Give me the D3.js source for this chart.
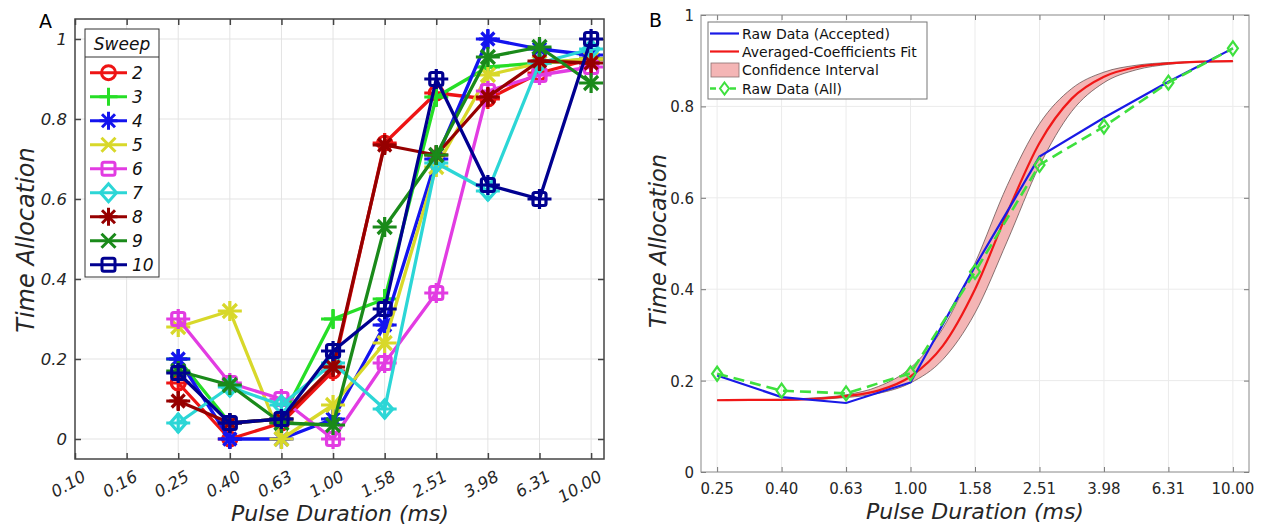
<!DOCTYPE html>
<html>
<head>
<meta charset="utf-8">
<script src="https://cdn.jsdelivr.net/npm/d3@7"></script>
<style>
  body { margin: 0; background: #fff; }
  svg text { font-family: "DejaVu Sans", sans-serif; fill: #262626; }
</style>
</head>
<body>
<svg id="chart" width="1262" height="529"></svg>
<script>
// ---- data ----
var pulse = [0.2512, 0.3981, 0.631, 1.0, 1.585, 2.512, 3.981, 6.31, 10.0];
var tickValsA = [0.1, 0.1585, 0.2512, 0.3981, 0.631, 1.0, 1.585, 2.512, 3.981, 6.31, 10.0];
var tickLabelsA = ['0.10', '0.16', '0.25', '0.40', '0.63', '1.00', '1.58', '2.51', '3.98', '6.31', '10.00'];
var tickValsB = pulse;
var tickLabelsB = ['0.25', '0.40', '0.63', '1.00', '1.58', '2.51', '3.98', '6.31', '10.00'];
var yTicks = [0, 0.2, 0.4, 0.6, 0.8, 1];
var yTickLabels = ['0', '0.2', '0.4', '0.6', '0.8', '1'];

var sweepNames = ['2', '3', '4', '5', '6', '7', '8', '9', '10'];
var sweep2  = [0.14, 0.00, 0.04, 0.17, 0.74, 0.865, 0.85, 0.915, 0.95];
var sweep3  = [0.20, 0.04, 0.05, 0.30, 0.35, 0.855, 0.93, 0.94, 0.95];
var sweep4  = [0.20, 0.00, 0.00, 0.05, 0.285, 0.70, 1.00, 0.975, 0.96];
var sweep5  = [0.28, 0.32, 0.00, 0.085, 0.24, 0.68, 0.91, 0.94, 0.95];
var sweep6  = [0.30, 0.14, 0.10, 0.00, 0.19, 0.365, 0.87, 0.91, 0.93];
var sweep7  = [0.04, 0.13, 0.085, 0.19, 0.075, 0.69, 0.62, 0.94, 0.975];
var sweep8  = [0.095, 0.04, 0.05, 0.18, 0.735, 0.71, 0.855, 0.945, 0.94];
var sweep9  = [0.17, 0.135, 0.04, 0.035, 0.53, 0.71, 0.955, 0.98, 0.89];
var sweep10 = [0.165, 0.04, 0.05, 0.22, 0.325, 0.90, 0.635, 0.60, 1.00];
var sweepValues = [sweep2, sweep3, sweep4, sweep5, sweep6, sweep7, sweep8, sweep9, sweep10];

var rawAccepted = [0.211, 0.164, 0.151, 0.196, 0.45, 0.69, 0.775, 0.854, 0.927];
var rawAll      = [0.215, 0.178, 0.172, 0.216, 0.438, 0.672, 0.756, 0.852, 0.927];

var fitX = [0.2512, 0.3162, 0.3981, 0.5012, 0.631, 0.7943, 1.0, 1.259, 1.585,
            1.995, 2.512, 3.162, 3.981, 5.012, 6.31, 7.943, 10.0];
var fitY   = [0.157, 0.158, 0.158, 0.160, 0.166, 0.178, 0.209, 0.276, 0.400,
              0.567, 0.720, 0.817, 0.865, 0.886, 0.894, 0.898, 0.899];
var ciHigh = [0.157, 0.158, 0.159, 0.162, 0.169, 0.187, 0.228, 0.314, 0.457,
              0.627, 0.762, 0.839, 0.875, 0.890, 0.896, 0.898, 0.899];
var ciLow  = [0.157, 0.157, 0.158, 0.159, 0.163, 0.172, 0.195, 0.246, 0.348,
              0.505, 0.670, 0.789, 0.852, 0.880, 0.892, 0.897, 0.898];

// ---- styles ----
var sweepColors = ['#ee1414', '#26de26', '#1414ee', '#d8d82a', '#e23ce2',
                   '#2cd6d6', '#960000', '#1a8a1a', '#000090'];
var sweepSymbols = ['o', '+', '*', 'x', 's', 'd', '*', 'x', 's'];

function symbolPath(s) {
    switch (s) {
    case 'o': return 'M7,0A7,7 0 1,1 -7,0A7,7 0 1,1 7,0Z';
    case '+': return 'M-9,0H9M0,-9V9';
    case '*': return 'M-9,0H9M0,-9V9M-6.5,-6.5L6.5,6.5M-6.5,6.5L6.5,-6.5';
    case 'x': return 'M-7,-7L7,7M-7,7L7,-7';
    case 's': return 'M-4.5,-6.5H4.5Q6.5,-6.5 6.5,-4.5V4.5Q6.5,6.5 4.5,6.5H-4.5Q-6.5,6.5 -6.5,4.5V-4.5Q-6.5,-6.5 -4.5,-6.5Z';
    case 'd': return 'M0,-9L8,0L0,9L-8,0Z';
    }
    return '';
}
var crossPath = 'M-12,0H12M0,-10V10';

var svg = d3.select('#chart');

// =================== Panel A ===================
var xA = d3.scaleLog().domain([0.1, Math.pow(10, 1.05)]).range([75, 604]);
var yA = d3.scaleLinear().domain([-0.05, 1.05]).range([459, 19]);
var gA = svg.append('g');

// grid
gA.append('g').selectAll('line').data(tickValsA.slice(1)).enter().append('line')
    .attr('x1', function(d){return xA(d);}).attr('x2', function(d){return xA(d);})
    .attr('y1', 19).attr('y2', 459)
    .attr('stroke', '#e3e3e3').attr('stroke-width', 1);
gA.append('g').selectAll('line').data(yTicks).enter().append('line')
    .attr('x1', 75).attr('x2', 604)
    .attr('y1', function(d){return yA(d);}).attr('y2', function(d){return yA(d);})
    .attr('stroke', '#e3e3e3').attr('stroke-width', 1);

// ticks (inward, all four sides)
gA.append('g').attr('transform', 'translate(0,459)')
    .call(d3.axisBottom(xA).tickValues(tickValsA).tickSize(-6).tickFormat(''))
    .call(function(g){g.select('.domain').remove();});
gA.append('g').attr('transform', 'translate(0,19)')
    .call(d3.axisTop(xA).tickValues(tickValsA).tickSize(-6).tickFormat(''))
    .call(function(g){g.select('.domain').remove();});
gA.append('g').attr('transform', 'translate(75,0)')
    .call(d3.axisLeft(yA).tickValues(yTicks).tickSize(-6).tickFormat(''))
    .call(function(g){g.select('.domain').remove();});
gA.append('g').attr('transform', 'translate(604,0)')
    .call(d3.axisRight(yA).tickValues(yTicks).tickSize(-6).tickFormat(''))
    .call(function(g){g.select('.domain').remove();});
gA.selectAll('.tick line').attr('stroke', '#444').attr('stroke-width', 1.5);

// lines + markers
var lineA = d3.line()
    .x(function(d, i){return xA(pulse[i]);})
    .y(function(d){return yA(d);});
sweepValues.forEach(function(vals, k) {
    var col = sweepColors[k];
    var g = gA.append('g');
    g.append('path').attr('d', lineA(vals))
        .attr('fill', 'none').attr('stroke', col).attr('stroke-width', 3.3)
        .attr('stroke-linejoin', 'round');
    var m = g.selectAll('g.pt').data(vals).enter().append('g')
        .attr('transform', function(d, i){return 'translate(' + xA(pulse[i]) + ',' + yA(d) + ')';});
    m.append('path').attr('d', symbolPath(sweepSymbols[k]))
        .attr('fill', 'none').attr('stroke', col).attr('stroke-width', 3.2);
    m.append('path').attr('d', crossPath)
        .attr('fill', 'none').attr('stroke', col).attr('stroke-width', 3.2);
});

// box
gA.append('rect').attr('x', 75).attr('y', 19).attr('width', 529).attr('height', 440)
    .attr('fill', 'none').attr('stroke', '#444').attr('stroke-width', 1.5);

// tick labels
gA.append('g').selectAll('text').data(yTicks).enter().append('text')
    .attr('x', 67).attr('y', function(d){return yA(d) + 6;})
    .attr('text-anchor', 'end').attr('font-size', 16.5).attr('font-style', 'italic')
    .text(function(d, i){return yTickLabels[i];});
gA.append('g').selectAll('text').data(tickValsA).enter().append('text')
    .attr('transform', function(d){return 'translate(' + (xA(d) + 6) + ',469) rotate(-30)';})
    .attr('dy', '0.75em')
    .attr('text-anchor', 'end').attr('font-size', 16.5).attr('font-style', 'italic')
    .text(function(d, i){return tickLabelsA[i];});

// axis titles
gA.append('text').attr('x', 340).attr('y', 521)
    .attr('text-anchor', 'middle').attr('font-size', 22).attr('font-style', 'italic')
    .text('Pulse Duration (ms)');
gA.append('text').attr('transform', 'translate(34,240) rotate(-90)')
    .attr('text-anchor', 'middle').attr('font-size', 24).attr('font-style', 'italic')
    .text('Time Allocation');
gA.append('text').attr('x', 39).attr('y', 28).attr('font-size', 19).style('fill', '#000').text('A');

// legend
var legA = gA.append('g');
legA.append('rect').attr('x', 85).attr('y', 29).attr('width', 74).attr('height', 248)
    .attr('fill', '#fff').attr('stroke', '#333').attr('stroke-width', 1);
legA.append('line').attr('x1', 85).attr('x2', 159).attr('y1', 57).attr('y2', 57)
    .attr('stroke', '#333').attr('stroke-width', 1);
legA.append('text').attr('x', 122).attr('y', 50).attr('text-anchor', 'middle')
    .attr('font-size', 17).attr('font-style', 'italic').style('fill', '#111').text('Sweep');
var items = legA.selectAll('g.item').data(sweepNames).enter().append('g')
    .attr('transform', function(d, i){return 'translate(0,' + (72.7 + i * 24) + ')';});
items.append('line').attr('x1', 90).attr('x2', 127)
    .attr('stroke', function(d, i){return sweepColors[i];}).attr('stroke-width', 3);
items.append('path').attr('transform', 'translate(108.5,0)')
    .attr('d', function(d, i){return symbolPath(sweepSymbols[i]);})
    .attr('fill', 'none').attr('stroke', function(d, i){return sweepColors[i];}).attr('stroke-width', 3);
items.append('text').attr('x', 132).attr('y', 6.5)
    .attr('font-size', 17).attr('font-style', 'italic').style('fill', '#111')
    .text(function(d){return d;});

// =================== Panel B ===================
var xB = d3.scaleLog().domain([Math.pow(10, -0.65), Math.pow(10, 1.05)]).range([701, 1249]);
var yB = d3.scaleLinear().domain([0, 1]).range([472, 15]);
var gB = svg.append('g');

gB.append('g').selectAll('line').data(tickValsB).enter().append('line')
    .attr('x1', function(d){return xB(d);}).attr('x2', function(d){return xB(d);})
    .attr('y1', 15).attr('y2', 472)
    .attr('stroke', '#ebebeb').attr('stroke-width', 1);
gB.append('g').selectAll('line').data(yTicks.slice(1, 5)).enter().append('line')
    .attr('x1', 701).attr('x2', 1249)
    .attr('y1', function(d){return yB(d);}).attr('y2', function(d){return yB(d);})
    .attr('stroke', '#ebebeb').attr('stroke-width', 1);

gB.append('g').attr('transform', 'translate(0,472)')
    .call(d3.axisBottom(xB).tickValues(tickValsB).tickSize(-5).tickFormat(''))
    .call(function(g){g.select('.domain').remove();});
gB.append('g').attr('transform', 'translate(0,15)')
    .call(d3.axisTop(xB).tickValues(tickValsB).tickSize(-5).tickFormat(''))
    .call(function(g){g.select('.domain').remove();});
gB.append('g').attr('transform', 'translate(701,0)')
    .call(d3.axisLeft(yB).tickValues(yTicks).tickSize(-5).tickFormat(''))
    .call(function(g){g.select('.domain').remove();});
gB.append('g').attr('transform', 'translate(1249,0)')
    .call(d3.axisRight(yB).tickValues(yTicks).tickSize(-5).tickFormat(''))
    .call(function(g){g.select('.domain').remove();});
gB.selectAll('.tick line').attr('stroke', '#777').attr('stroke-width', 1);

// confidence band
var band = d3.area()
    .x(function(d, i){return xB(fitX[i]);})
    .y0(function(d, i){return yB(ciLow[i]);})
    .y1(function(d){return yB(d);})
    .curve(d3.curveMonotoneX);
gB.append('path').attr('d', band(ciHigh))
    .attr('fill', '#f4b5b5').attr('stroke', '#6a5555').attr('stroke-width', 0.8);

var lineFit = d3.line()
    .x(function(d, i){return xB(fitX[i]);})
    .y(function(d){return yB(d);})
    .curve(d3.curveMonotoneX);
gB.append('path').attr('d', lineFit(fitY))
    .attr('fill', 'none').attr('stroke', '#f01818').attr('stroke-width', 2.2);

var lineB = d3.line()
    .x(function(d, i){return xB(pulse[i]);})
    .y(function(d){return yB(d);});
gB.append('path').attr('d', lineB(rawAccepted))
    .attr('fill', 'none').attr('stroke', '#1a1ae6').attr('stroke-width', 2.2);
gB.append('path').attr('d', lineB(rawAll))
    .attr('fill', 'none').attr('stroke', '#3ee03e').attr('stroke-width', 2.6)
    .attr('stroke-dasharray', '11,6');
gB.append('g').selectAll('path').data(rawAll).enter().append('path')
    .attr('transform', function(d, i){return 'translate(' + xB(pulse[i]) + ',' + yB(d) + ')';})
    .attr('d', 'M0,-7L5,0L0,7L-5,0Z')
    .attr('fill', 'none').attr('stroke', '#3ee03e').attr('stroke-width', 2.2);

gB.append('rect').attr('x', 701).attr('y', 15).attr('width', 548).attr('height', 457)
    .attr('fill', 'none').attr('stroke', '#888').attr('stroke-width', 1);

gB.append('g').selectAll('text').data(yTicks).enter().append('text')
    .attr('x', 694).attr('y', function(d){return yB(d) + 6;})
    .attr('text-anchor', 'end').attr('font-size', 15)
    .text(function(d, i){return yTickLabels[i];});
gB.append('g').selectAll('text').data(tickValsB).enter().append('text')
    .attr('x', function(d){return xB(d);}).attr('y', 494)
    .attr('text-anchor', 'middle').attr('font-size', 15)
    .text(function(d, i){return tickLabelsB[i];});

gB.append('text').attr('x', 975).attr('y', 519)
    .attr('text-anchor', 'middle').attr('font-size', 22).attr('font-style', 'italic')
    .text('Pulse Duration (ms)');
gB.append('text').attr('transform', 'translate(666,241) rotate(-90)')
    .attr('text-anchor', 'middle').attr('font-size', 22.5).attr('font-style', 'italic')
    .text('Time Allocation');
gB.append('text').attr('x', 649).attr('y', 27).attr('font-size', 19).style('fill', '#000').text('B');

// legend
var legB = gB.append('g');
legB.append('rect').attr('x', 708).attr('y', 22).attr('width', 219).attr('height', 77)
    .attr('fill', '#fff').attr('stroke', '#777').attr('stroke-width', 1);
var legRowsB = ['Raw Data (Accepted)', 'Averaged-Coefficients Fit', 'Confidence Interval', 'Raw Data (All)'];
var legYB = [33.5, 51.5, 70, 88.5];
legB.append('line').attr('x1', 710).attr('x2', 739).attr('y1', legYB[0]).attr('y2', legYB[0])
    .attr('stroke', '#1a1ae6').attr('stroke-width', 2.2);
legB.append('line').attr('x1', 710).attr('x2', 739).attr('y1', legYB[1]).attr('y2', legYB[1])
    .attr('stroke', '#f01818').attr('stroke-width', 2.2);
legB.append('rect').attr('x', 711).attr('y', legYB[2] - 7).attr('width', 28).attr('height', 14)
    .attr('fill', '#f4b5b5').attr('stroke', '#8a7070').attr('stroke-width', 0.8);
legB.append('line').attr('x1', 710).attr('x2', 739).attr('y1', legYB[3]).attr('y2', legYB[3])
    .attr('stroke', '#3ee03e').attr('stroke-width', 2.5).attr('stroke-dasharray', '6,4');
legB.append('path').attr('transform', 'translate(724.5,' + legYB[3] + ')')
    .attr('d', 'M0,-6L4.5,0L0,6L-4.5,0Z')
    .attr('fill', '#fff').attr('stroke', '#3ee03e').attr('stroke-width', 2);
legB.selectAll('text.lab').data(legRowsB).enter().append('text')
    .attr('x', 742).attr('y', function(d, i){return legYB[i] + 5;})
    .attr('font-size', 14).style('fill', '#111')
    .text(function(d){return d;});
</script>
</body>
</html>
